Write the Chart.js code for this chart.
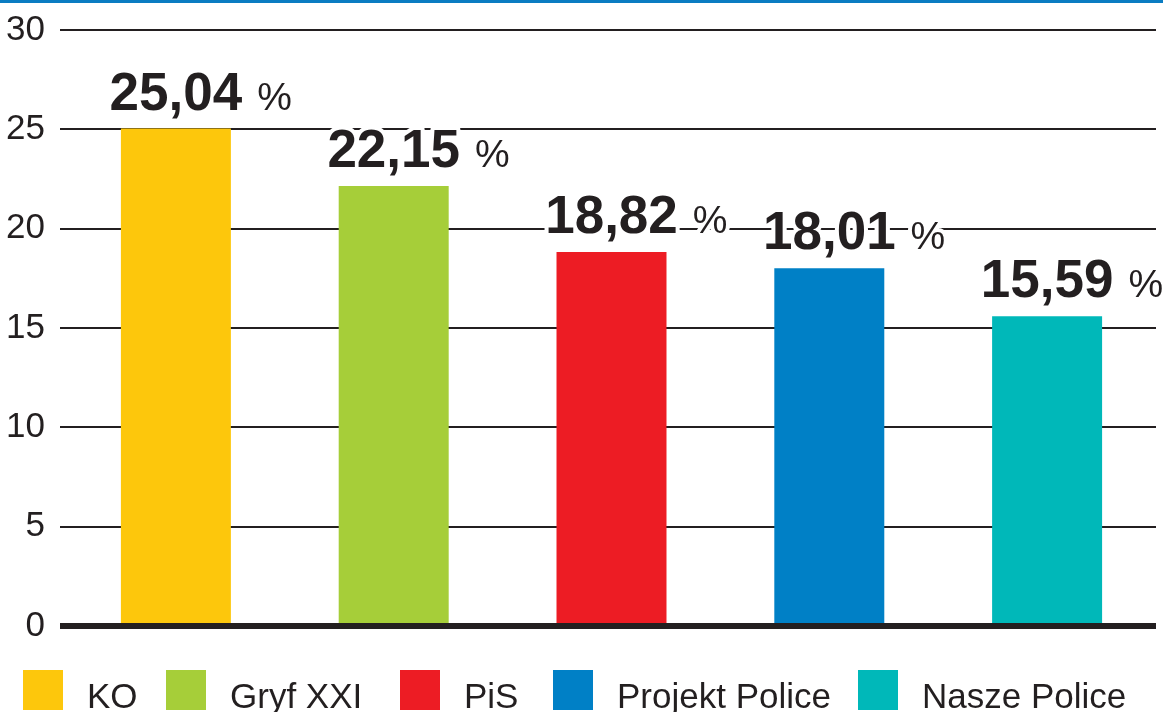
<!DOCTYPE html>
<html>
<head>
<meta charset="utf-8">
<script src="https://cdn.jsdelivr.net/npm/chart.js@4.4.1/dist/chart.umd.min.js"></script>
<style>
	body { margin: 0; background: #fff; }
	#wrap { position: relative; width: 1163px; height: 712px; }
</style>
</head>
<body>
<div id="wrap"><canvas id="myChart"></canvas></div>
<script>
const categories = ['KO', 'Gryf XXI', 'PiS', 'Projekt Police', 'Nasze Police'];
const results = [25.04, 22.15, 18.82, 18.01, 15.59];
const barColors = ['#fdc70c', '#a6ce39', '#ed1c24', '#0080c6', '#00b8b9'];
const yMax = 30;
const yStep = 5;

const ink = '#231f20';
const font = "'Liberation Sans', Arial, sans-serif";

// blue rule along the top edge
const topRule = {
	id: 'topRule',
	beforeDraw(chart) {
		const ctx = chart.ctx;
		ctx.save();
		ctx.fillStyle = '#0a7cc2';
		ctx.fillRect(0, 0, chart.width, 3);
		ctx.restore();
	}
};

// value labels: bold number + thin "%" with a white halo over the grid
const valueLabels = {
	id: 'valueLabels',
	afterDatasetsDraw(chart) {
		const ctx = chart.ctx;
		const meta = chart.getDatasetMeta(0);
		ctx.save();
		ctx.textBaseline = 'alphabetic';
		ctx.lineJoin = 'round';
		meta.data.forEach((bar, i) => {
			const txt = results[i].toFixed(2).replace('.', ',');
			const y = bar.y - 19;
			ctx.font = 'bold 53px ' + font;
			const w = ctx.measureText(txt).width;
			const x0 = bar.x - w / 2;
			ctx.textAlign = 'left';
			ctx.strokeStyle = '#fff';
			ctx.lineWidth = 8;
			ctx.strokeText(txt, x0, y);
			ctx.fillStyle = ink;
			ctx.fillText(txt, x0, y);
			ctx.font = '39px ' + font;
			ctx.strokeText('%', x0 + w + 15, y);
			ctx.fillText('%', x0 + w + 15, y);
		});
		ctx.restore();
	}
};

// thick zero line drawn over the bar feet
const zeroLine = {
	id: 'zeroLine',
	afterDatasetsDraw(chart) {
		const ctx = chart.ctx;
		const y = chart.scales.y.getPixelForValue(0);
		ctx.save();
		ctx.strokeStyle = ink;
		ctx.lineWidth = 6;
		ctx.beginPath();
		ctx.moveTo(chart.chartArea.left - 7, y);
		ctx.lineTo(chart.chartArea.right, y);
		ctx.stroke();
		ctx.restore();
	}
};

// legend row with square swatches
const legendX = [23, 166, 400, 553, 858];
const squareLegend = {
	id: 'squareLegend',
	afterDraw(chart) {
		const ctx = chart.ctx;
		ctx.save();
		ctx.font = '35px ' + font;
		ctx.textBaseline = 'alphabetic';
		ctx.textAlign = 'left';
		categories.forEach((name, i) => {
			ctx.fillStyle = barColors[i];
			ctx.fillRect(legendX[i], 670, 40, 40);
			ctx.fillStyle = ink;
			ctx.fillText(name, legendX[i] + 64, 708);
		});
		ctx.restore();
	}
};

const ctx = document.getElementById('myChart');
const plot = new Chart(ctx, {
	type: 'bar',
	data: {
		labels: categories,
		datasets: [{
			data: results,
			backgroundColor: barColors,
			borderWidth: 0,
			barPercentage: 0.505,
			categoryPercentage: 1
		}]
	},
	options: {
		responsive: true,
		maintainAspectRatio: false,
		animation: false,
		layout: {
			padding: { top: 30, right: 7, bottom: 86, left: 0 }
		},
		plugins: {
			legend: { display: false },
			tooltip: { enabled: false }
		},
		scales: {
			x: {
				display: false
			},
			y: {
				min: 0,
				max: yMax,
				afterFit: s => {
					s.width = 67;
					s.paddingTop = 0;
					s.paddingBottom = 0;
				},
				border: { display: false },
				grid: {
					color: ctx => ctx.tick && ctx.tick.value === 0 ? 'rgba(0,0,0,0)' : ink,
					lineWidth: 2,
					tickLength: 7,
					drawTicks: true
				},
				ticks: {
					stepSize: yStep,
					padding: 15,
					color: ink,
					font: { family: font, size: 35 }
				}
			}
		}
	},
	plugins: [topRule, valueLabels, zeroLine, squareLegend]
});
</script>
</body>
</html>
